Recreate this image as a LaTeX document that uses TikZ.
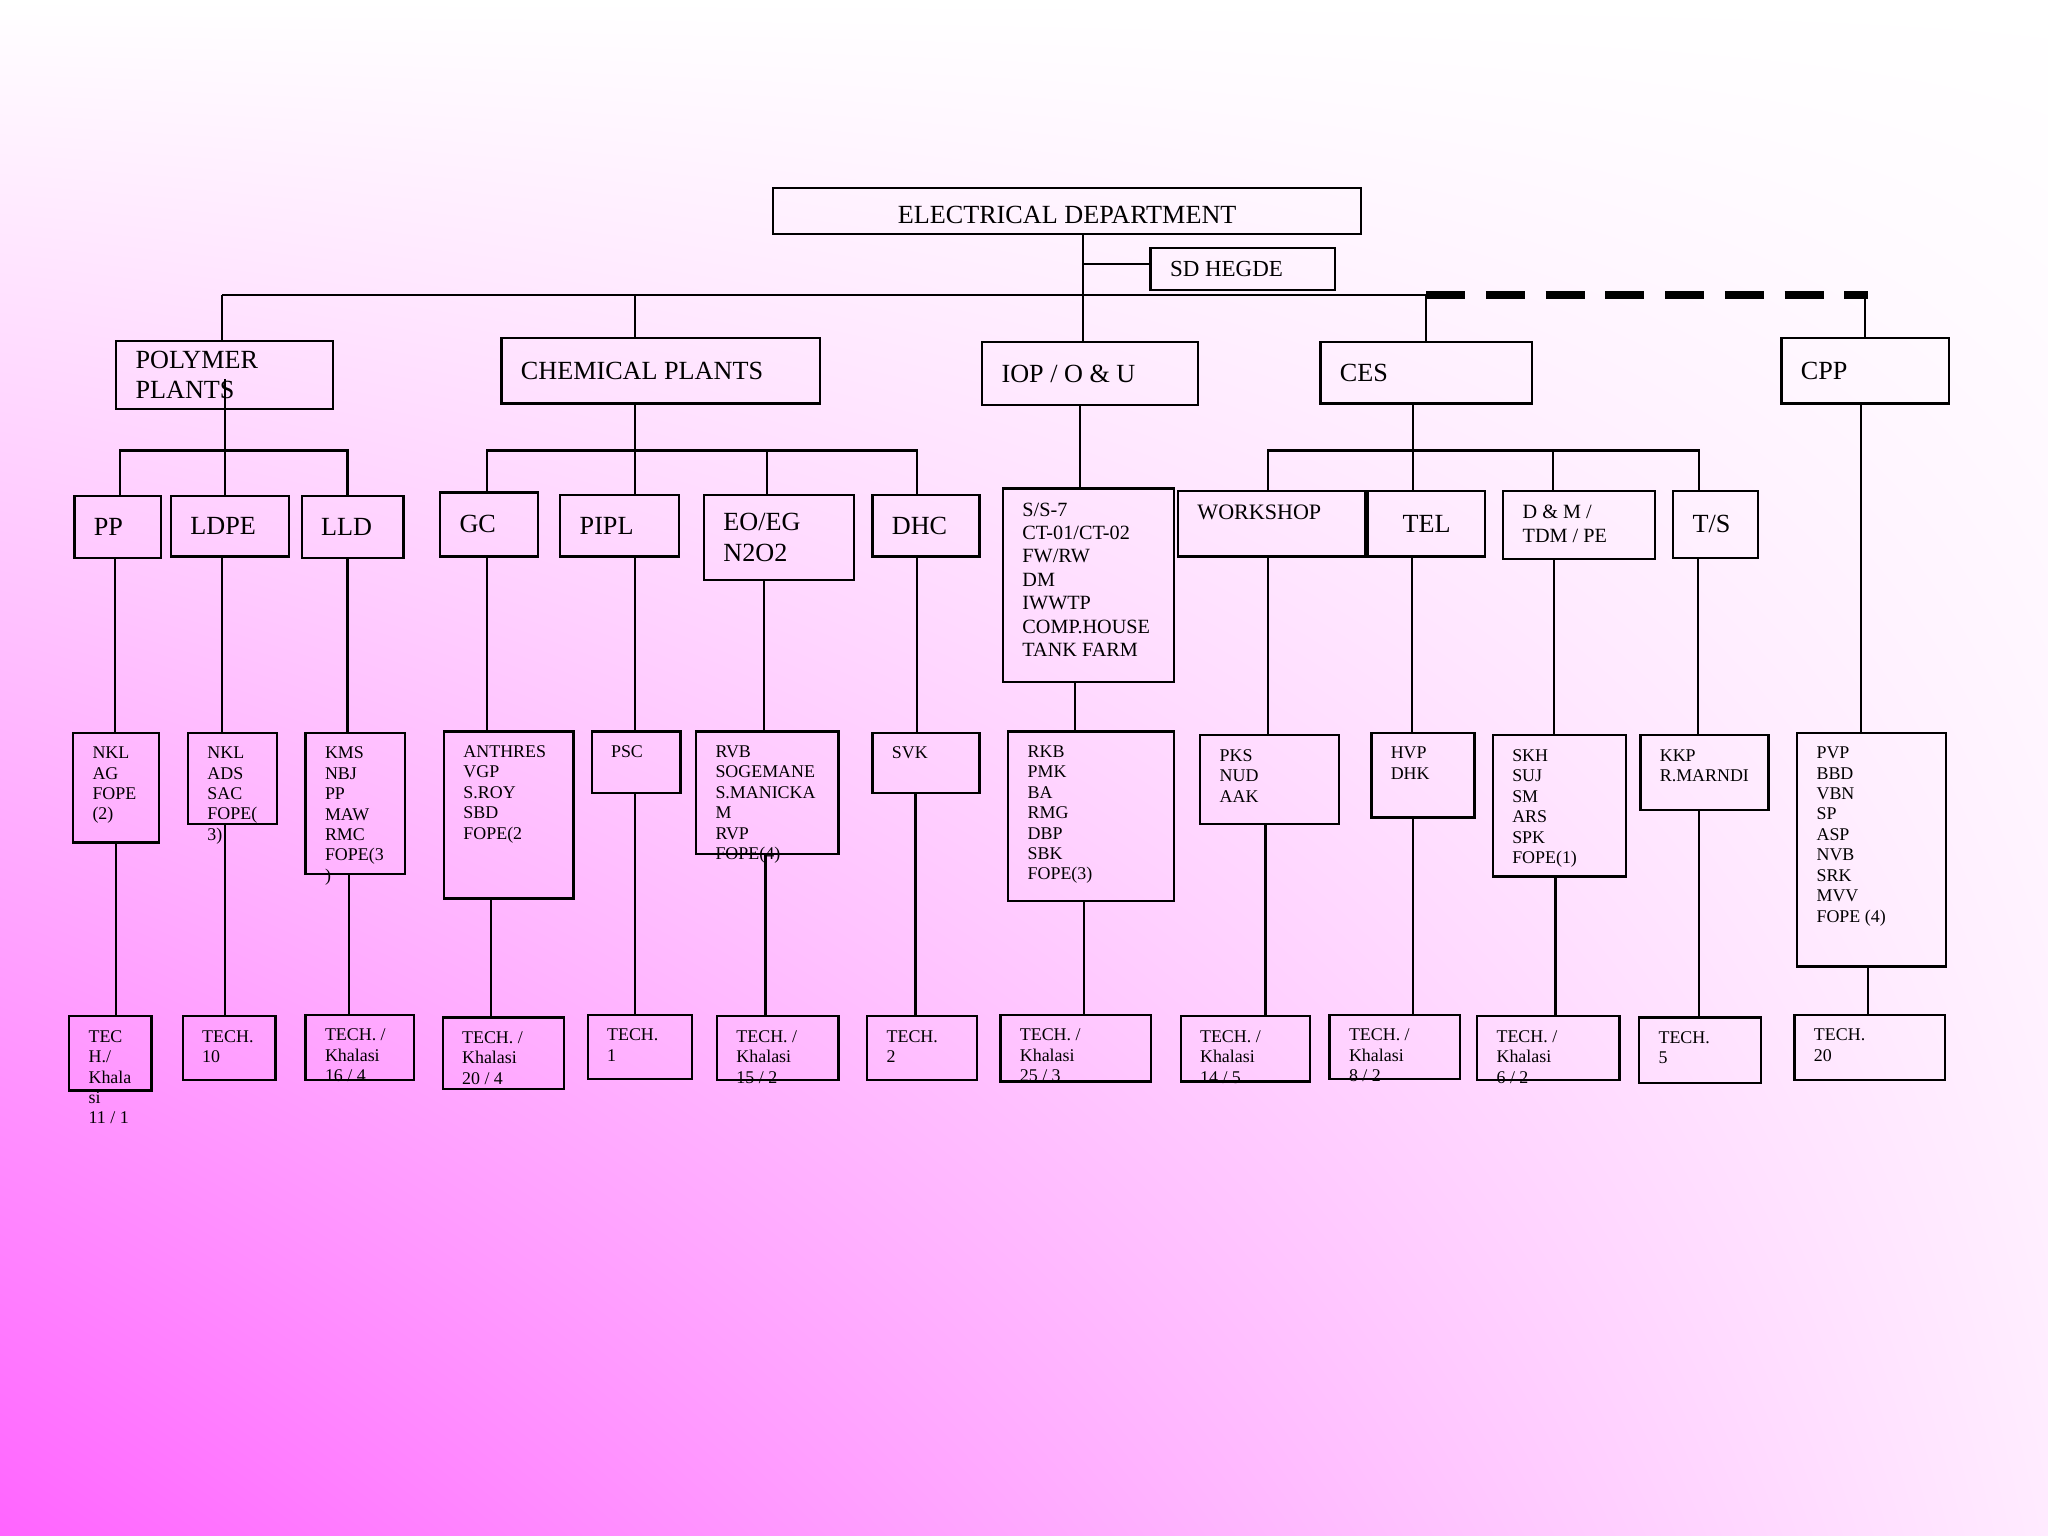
\documentclass[tikz,border=0pt]{standalone}
\usepackage{fontspec}
\setmainfont{Liberation Serif}
\usetikzlibrary{positioning,shadings}
\definecolor{mag}{RGB}{255,100,255}
\definecolor{pinkr}{RGB}{255,235,255}
\tikzset{
  box/.style={draw, line width=0.5pt, inner sep=0pt},
  bigtxt/.style={font=\fontsize{5.7}{6.6}\selectfont, align=left, inner sep=0pt},
  midtxt/.style={font=\fontsize{4.4}{5.1}\selectfont, align=left, inner sep=0pt},
  smtxt/.style={font=\fontsize{3.9}{4.45}\selectfont, align=left, inner sep=0pt},
  wire/.style={line width=0.5pt},
  dashwire/.style={line width=1.7pt, dash pattern=on 8.5pt off 4.5pt}
}
% box with big label on the left, vertically centred
\newcommand{\bigbx}[6]{%
  \node[box, minimum width={0.01cm*(#4-#2)}, minimum height={0.01cm*(#5-#3)}]
    (#1) at ({(#2+#4)/2},{(#3+#5)/2}) {};
  \node[bigtxt, anchor=west, xshift=0.15cm] at (#1.west) {#6};}
% box with small label in the top left corner
\newcommand{\smbx}[7][smtxt]{%
  \node[box, minimum width={0.01cm*(#5-#3)}, minimum height={0.01cm*(#6-#4)}]
    (#2) at ({(#3+#5)/2},{(#4+#6)/2}) {};
  \node[#1, anchor=north west, xshift=0.15cm, yshift=-0.11cm] at (#2.north west) {#7};}
\begin{document}
\begin{tikzpicture}[x=0.01cm, y=-0.01cm]
\shade[upper left=white, upper right=white, lower left=mag, lower right=pinkr]
  (0,0) rectangle (1568,1176);
\useasboundingbox (0,0) rectangle (1568,1176);

% top level
\node[box, minimum width=4.5cm, minimum height=0.35cm] (ed) at (817,161.5) {};
\node[bigtxt, yshift=-0.03cm] at (ed) {ELECTRICAL DEPARTMENT};
\node[box, minimum width=1.41cm, minimum height=0.32cm] (sd) at (951.5,206) {};
\node[bigtxt, font=\fontsize{5}{6}\selectfont, anchor=west, xshift=0.15cm] at (sd.west) {SD HEGDE};

% departments
\bigbx{poly}{89}{261}{255}{313}{POLYMER\\PLANTS}
\bigbx{chem}{384}{259}{628}{309}{CHEMICAL PLANTS}
\bigbx{iop}{752}{262}{917}{310}{IOP / O \& U}
\bigbx{ces}{1011}{262}{1173}{309}{CES}
\bigbx{cpp}{1364}{259}{1492}{309}{CPP}

% sections
\bigbx{pp}{57}{380}{123}{427}{PP}
\bigbx{ldpe}{131}{380}{221}{426}{LDPE}
\bigbx{lld}{231}{380}{309}{427}{LLD}
\bigbx{gc}{337}{377}{412}{426}{GC}
\bigbx{pipl}{429}{379}{520}{426}{PIPL}
\bigbx{eo}{539}{379}{654}{444}{EO/EG\\N2O2}
\bigbx{dhc}{668}{379}{750}{426}{DHC}
\smbx[midtxt]{ss}{768}{374}{899}{522}{S/S-7\\CT-01/CT-02\\FW/RW\\DM\\IWWTP\\COMP.HOUSE\\TANK FARM}
\smbx[bigtxt]{work}{902}{376}{1045}{426}{\fontsize{4.8}{5.5}\selectfont WORKSHOP}
\bigbx{tel}{1047}{376}{1137}{426}{\hspace{0.12cm}TEL}
\smbx[midtxt]{dm}{1151}{376}{1267}{428}{D \& M /\\TDM / PE}
\bigbx{ts}{1281}{376}{1346}{427}{T/S}

% people
\smbx{nkl}{56}{561}{122}{645}{NKL\\AG\\FOPE\\(2)}
\smbx{nklb}{144}{561}{212}{631}{NKL\\ADS\\SAC\\FOPE(\\3)}
\smbx{kms}{234}{561}{310}{669}{KMS\\NBJ\\PP\\MAW\\RMC\\FOPE(3\\)}
\smbx{anth}{340}{560}{439}{688}{ANTHRES\\VGP\\S.ROY\\SBD\\FOPE(2}
\smbx{psc}{453}{560}{521}{607}{PSC}
\smbx{rvb}{533}{560}{642}{654}{RVB\\SOGEMANE\\S.MANICKA\\M\\RVP\\FOPE(4)}
\smbx{svk}{668}{561}{750}{607}{SVK}
\smbx{rkb}{772}{560}{899}{690}{RKB\\PMK\\BA\\RMG\\DBP\\SBK\\FOPE(3)}
\smbx{pks}{919}{563}{1025}{631}{PKS\\NUD\\AAK}
\smbx{hvp}{1050}{561}{1129}{626}{HVP\\DHK}
\smbx{skh}{1143}{563}{1245}{671}{SKH\\SUJ\\SM\\ARS\\SPK\\FOPE(1)}
\smbx{kkp}{1256}{563}{1354}{620}{KKP\\R.MARNDI}
\smbx{pvp}{1376}{561}{1490}{740}{PVP\\BBD\\VBN\\SP\\ASP\\NVB\\SRK\\MVV\\FOPE (4)}

% technicians
\smbx{ta}{53}{778}{116}{835}{TEC\\H./\\Khala\\si\\11 / 1}
\smbx{tb}{140}{778}{211}{827}{TECH.\\10}
\smbx{tc}{234}{777}{317}{827}{TECH. /\\Khalasi\\16 / 4}
\smbx{td}{339}{779}{432}{834}{TECH. /\\Khalasi\\20 / 4}
\smbx{te}{450}{777}{530}{826}{TECH.\\1}
\smbx{tf}{549}{778}{642}{827}{TECH. /\\Khalasi\\15 / 2}
\smbx{tg}{664}{778}{748}{827}{TECH.\\2}
\smbx{th}{766}{777}{881}{828}{TECH. /\\Khalasi\\25 / 3}
\smbx{ti}{904}{778}{1003}{828}{TECH. /\\Khalasi\\14 / 5}
\smbx{tj}{1018}{777}{1118}{826}{TECH. /\\Khalasi\\8 / 2}
\smbx{tk}{1131}{778}{1240}{827}{TECH. /\\Khalasi\\6 / 2}
\smbx{tl}{1255}{779}{1348}{829}{TECH.\\5}
\smbx{tm}{1374}{777}{1489}{827}{TECH.\\20}

% top bus
\coordinate (busl) at (170,226);
\coordinate (busm) at (1092,226);
\coordinate (busr) at (1430,226);
\coordinate (sdtap) at (829,202);
\draw[wire] (829,179) -- (829,226);
\draw[wire] (sdtap) -- (sdtap -| sd.west);
\draw[wire] (busl) -- (busm);
\draw[dashwire] (busm) -- (busr);
\draw[wire] (busl) -- (busl |- poly.north);
\draw[wire] (486,226) -- (486,259);
\draw[wire] (829,226) -- (829,262);
\draw[wire] (busm) -- (busm |- ces.north);
\draw[wire] (1428,226) -- (1428,259);

% polymer
\draw[wire] (172,290) -- (172,345);
\draw[wire] (92,380) -- (92,345) -- (266,345) -- (266,380);
\draw[wire] (172,345) -- (172,380);
% chemical
\draw[wire] (486,309) -- (486,345);
\draw[wire] (373,377) -- (373,345) -- (702,345) -- (702,379);
\draw[wire] (486,345) -- (486,379);
\draw[wire] (587,345) -- (587,379);
% iop
\draw[wire] (827,310) -- (827,374);
% ces
\draw[wire] (1082,309) -- (1082,345);
\draw[wire] (971,376) -- (971,345) -- (1301,345) -- (1301,376);
\draw[wire] (1082,345) -- (1082,376);
\draw[wire] (1189,345) -- (1189,376);
% cpp
\draw[wire] (1425,309) -- (1425,561);

% sections to people
\draw[wire] (88,427) -- (88,561);
\draw[wire] (170,426) -- (170,561);
\draw[wire] (266,427) -- (266,561);
\draw[wire] (373,426) -- (373,560);
\draw[wire] (486,426) -- (486,560);
\draw[wire] (585,444) -- (585,560);
\draw[wire] (702,426) -- (702,561);
\draw[wire] (823,522) -- (823,560);
\draw[wire] (971,426) -- (971,563);
\draw[wire] (1081,426) -- (1081,561);
\draw[wire] (1190,428) -- (1190,563);
\draw[wire] (1300,427) -- (1300,563);

% people to technicians
\draw[wire] (89,645) -- (89,778);
\draw[wire] (172,631) -- (172,778);
\draw[wire] (267,669) -- (267,777);
\draw[wire] (376,688) -- (376,779);
\draw[wire] (486,607) -- (486,777);
\draw[wire] (586,654) -- (586,778);
\draw[wire] (701,607) -- (701,778);
\draw[wire] (830,690) -- (830,777);
\draw[wire] (969,631) -- (969,778);
\draw[wire] (1082,626) -- (1082,777);
\draw[wire] (1191,671) -- (1191,778);
\draw[wire] (1301,620) -- (1301,779);
\draw[wire] (1430,740) -- (1430,777);
\end{tikzpicture}
\end{document}
